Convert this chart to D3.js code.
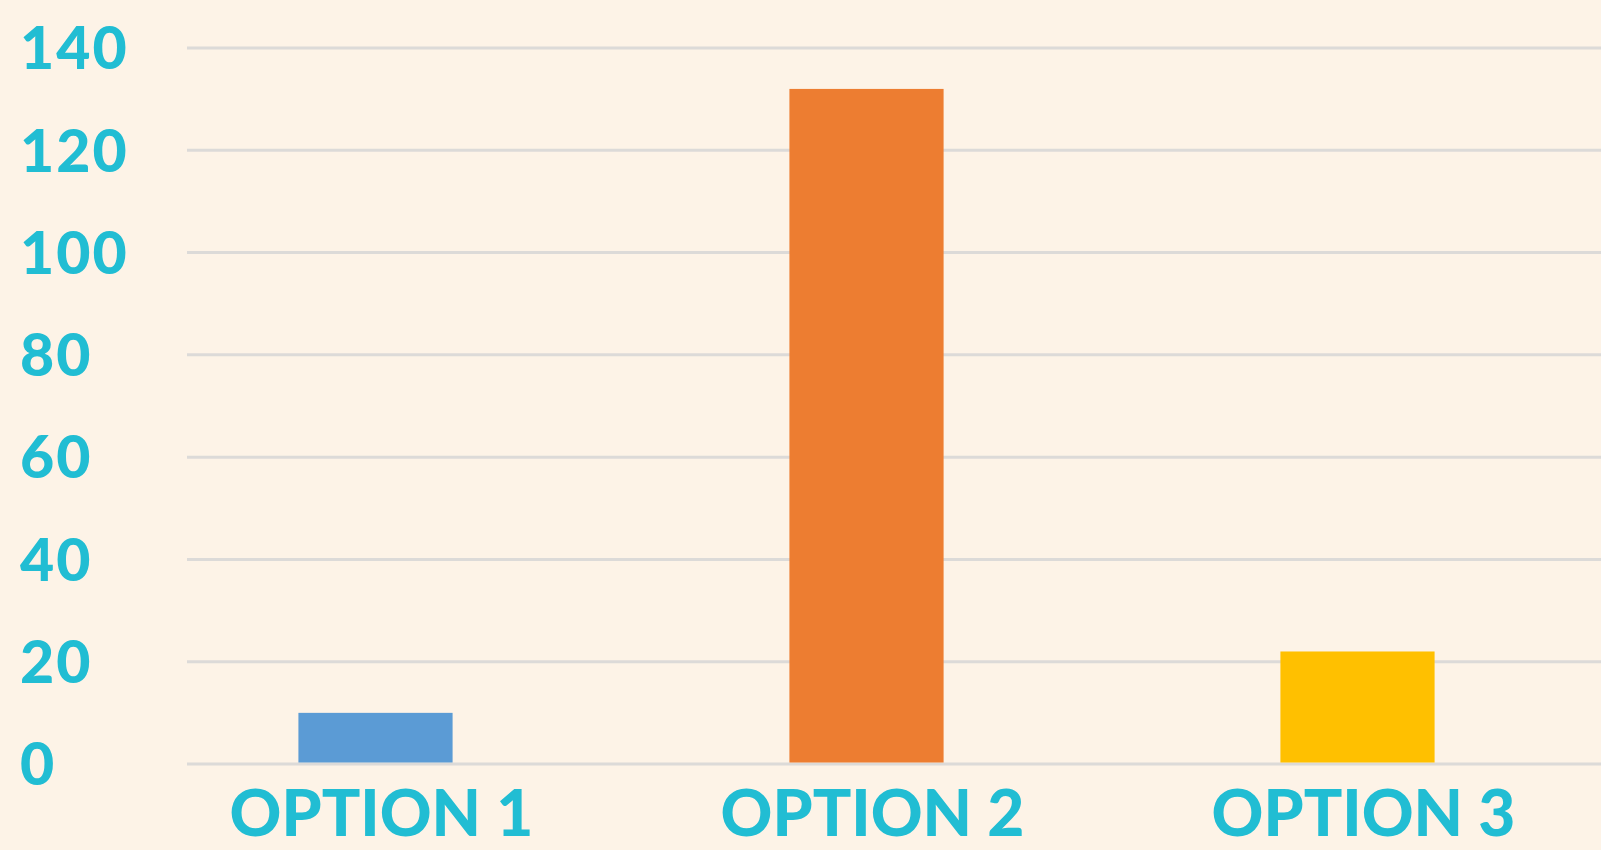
<!DOCTYPE html>
<html>
<head>
<meta charset="utf-8">
<script src="https://cdn.jsdelivr.net/npm/d3@7"></script>
<style>
  html, body { margin: 0; padding: 0; background: #FDF3E7; }
  svg { display: block; }
</style>
</head>
<body>
<div id="chart"></div>
<script>
// data
var categories = ["OPTION 1", "OPTION 2", "OPTION 3"];
var values = [10, 132, 22];
var barColors = ["#5B9BD5", "#ED7D31", "#FFC000"];
var yTicks = [0, 20, 40, 60, 80, 100, 120, 140];

var W = 1601, H = 850;
var labelColor = "#21BDD3";

var svg = d3.select("#chart")
  .append("svg")
    .attr("width", W)
    .attr("height", H);

svg.append("rect")
  .attr("width", W)
  .attr("height", H)
  .attr("fill", "#FDF3E7");

// scales
var x = d3.scaleBand()
  .domain(categories)
  .range([130, 1603])
  .paddingInner(0.686)
  .paddingOuter(0.343);

var y = d3.scaleLinear()
  .domain([0, 140])
  .range([764, 48]);

// gridlines
svg.append("g")
  .selectAll("line")
  .data(yTicks)
  .enter()
  .append("line")
    .attr("x1", 187)
    .attr("x2", W)
    .attr("y1", function(d) { return y(d); })
    .attr("y2", function(d) { return y(d); })
    .attr("stroke", "#DCDAD8")
    .attr("stroke-width", 3);

// bars
svg.append("g")
  .selectAll("rect")
  .data(values)
  .enter()
  .append("rect")
    .attr("x", function(d, i) { return x(categories[i]); })
    .attr("width", x.bandwidth())
    .attr("y", function(d) { return y(d); })
    .attr("height", function(d) { return y(0) - y(d) - 1.5; })
    .attr("fill", function(d, i) { return barColors[i]; });

// y labels, left aligned
svg.append("g")
  .selectAll("text")
  .data(yTicks)
  .enter()
  .append("text")
    .attr("x", 20)
    .attr("y", function(d) { return y(d); })
    .attr("dy", "0.36em")
    .attr("fill", labelColor)
    .style("font-family", "Lato, sans-serif")
    .style("font-weight", 900)
    .style("font-size", "59px")
    .style("letter-spacing", "2px")
    .text(function(d) { return d; });

// x labels
svg.append("g")
  .selectAll("text")
  .data(categories)
  .enter()
  .append("text")
    .attr("x", function(d) { return x(d) + x.bandwidth() / 2 + 6; })
    .attr("y", 836)
    .attr("text-anchor", "middle")
    .attr("fill", labelColor)
    .style("font-family", "Lato, sans-serif")
    .style("font-weight", 900)
    .style("font-size", "64px")
    .text(function(d) { return d; });
</script>
</body>
</html>
